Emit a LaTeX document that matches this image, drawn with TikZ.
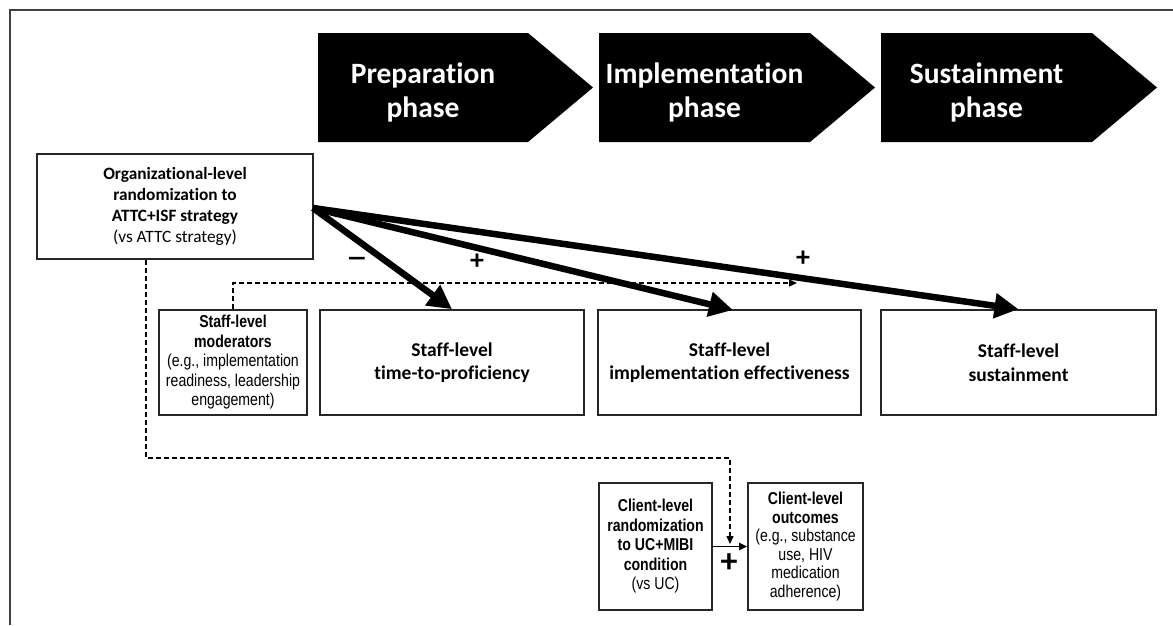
\documentclass[tikz,border=0pt]{standalone}
\usepackage{fontspec}
\setmainfont{Carlito}[Ligatures=NoCommon]
\newfontfamily\narrowfont[FakeStretch=0.82]{Liberation Sans}
\usetikzlibrary{arrows.meta,calc}
\begin{document}
\begin{tikzpicture}[x=1pt,y=-1pt,
  box/.style={draw=black!85,line width=1.6pt,inner sep=0pt,align=center},
  orgfont/.style={font=\fontsize{17.3}{21}\selectfont},
  stafffont/.style={font=\fontsize{19.5}{23.5}\selectfont},
  narrowtext/.style={font=\narrowfont\fontsize{17.2}{19.5}\selectfont},
  chevtext/.style={text=white,align=center,font=\bfseries\fontsize{29.5}{34}\selectfont},
  bigarrow/.style={line width=6.5pt,-{Triangle[length=24pt,width=24pt]}},
  dasharrow/.style={line width=1.3pt,dash pattern=on 5pt off 3pt,-{Triangle[length=8pt,width=7pt]}},
  signlabel/.style={font=\bfseries\fontsize{28}{30}\selectfont},
]
\useasboundingbox (0,0) rectangle (1173,625);
% frame
\draw[line width=1.6pt,draw=black!75] (1173,10) -- (10,10) -- (10,625);
% chevrons
\fill (318,33) -- (528,33) -- (593,87.5) -- (528,142) -- (318,142) -- cycle;
\fill (599,33) -- (810,33) -- (875,87.5) -- (810,142) -- (599,142) -- cycle;
\fill (881,33) -- (1092,33) -- (1157,87.5) -- (1092,142) -- (881,142) -- cycle;
\node[chevtext] (p1) at (423,92) {Preparation\\phase};
\node[chevtext] (p2) at (704.5,92) {Implementation\\phase};
\node[chevtext] (p3) at (986.5,92) {Sustainment\\phase};
% boxes
\node[box,orgfont,minimum width=276pt,minimum height=105pt] (org) at (175,206.5)
  {\textbf{Organizational-level}\\\textbf{randomization to}\\\textbf{ATTC+ISF strategy}\\(vs ATTC strategy)};
\node[box,narrowtext,minimum width=148pt,minimum height=105pt] (mod) at (233,362.5)
  {\textbf{Staff-level}\\\textbf{moderators}\\(e.g., implementation\\readiness, leadership\\engagement)};
\node[box,stafffont,minimum width=264pt,minimum height=105pt] (time) at (452,362.5)
  {\textbf{Staff-level}\\\textbf{time-to-proficiency}};
\node[box,stafffont,minimum width=263pt,minimum height=105pt] (impl) at (729.5,362.5)
  {\textbf{Staff-level}\\\textbf{implementation effectiveness}};
\node[box,stafffont,minimum width=275pt,minimum height=105pt] (sust) at (1018.5,362.5)
  {\textbf{Staff-level}\\\textbf{sustainment}};
\node[box,narrowtext,minimum width=113pt,minimum height=127pt] (crand) at (655.5,546.5)
  {\textbf{Client-level}\\\textbf{randomization}\\\textbf{to UC+MIBI}\\\textbf{condition}\\(vs UC)};
\node[box,narrowtext,font=\narrowfont\fontsize{17.2}{18.6}\selectfont,minimum width=115pt,minimum height=127pt] (cout) at (805.5,546.5)
  {\textbf{Client-level}\\\textbf{outcomes}\\(e.g., substance\\use, HIV\\medication\\adherence)};
% thick arrows
\coordinate (os) at (313,208);
\draw[bigarrow] (os) -- (time.north);
\draw[bigarrow] (os) -- (733,310);
\draw[bigarrow] (os) -- (sust.north);
% moderator dashed arrow
\coordinate (mc) at (233,283);
\coordinate (me) at (797,283);
\draw[dasharrow] (mod.north) -- (mc) -- (me);
% client arrow
\draw[line width=1.8pt,-{Triangle[length=8pt,width=7pt]}] (crand.east) -- (cout.west);
% org dashed arrow to client arrow
\coordinate (d1) at (146,458);
\coordinate (d2) at (730,458);
\coordinate (d3) at (730,544);
\draw[dasharrow] (d1 |- org.south) -- (d1) -- (d2) -- (d3);
% labels
\node[signlabel] (m1) at (357,262) {\scalebox{1.45}[1]{−}};
\node[signlabel] (pl1) at (477,262) {+};
\node[signlabel] (pl2) at (803,259) {+};
\node[signlabel,font=\bfseries\fontsize{34}{36}\selectfont] (pl3) at (729,563) {+};
\end{tikzpicture}
\end{document}
